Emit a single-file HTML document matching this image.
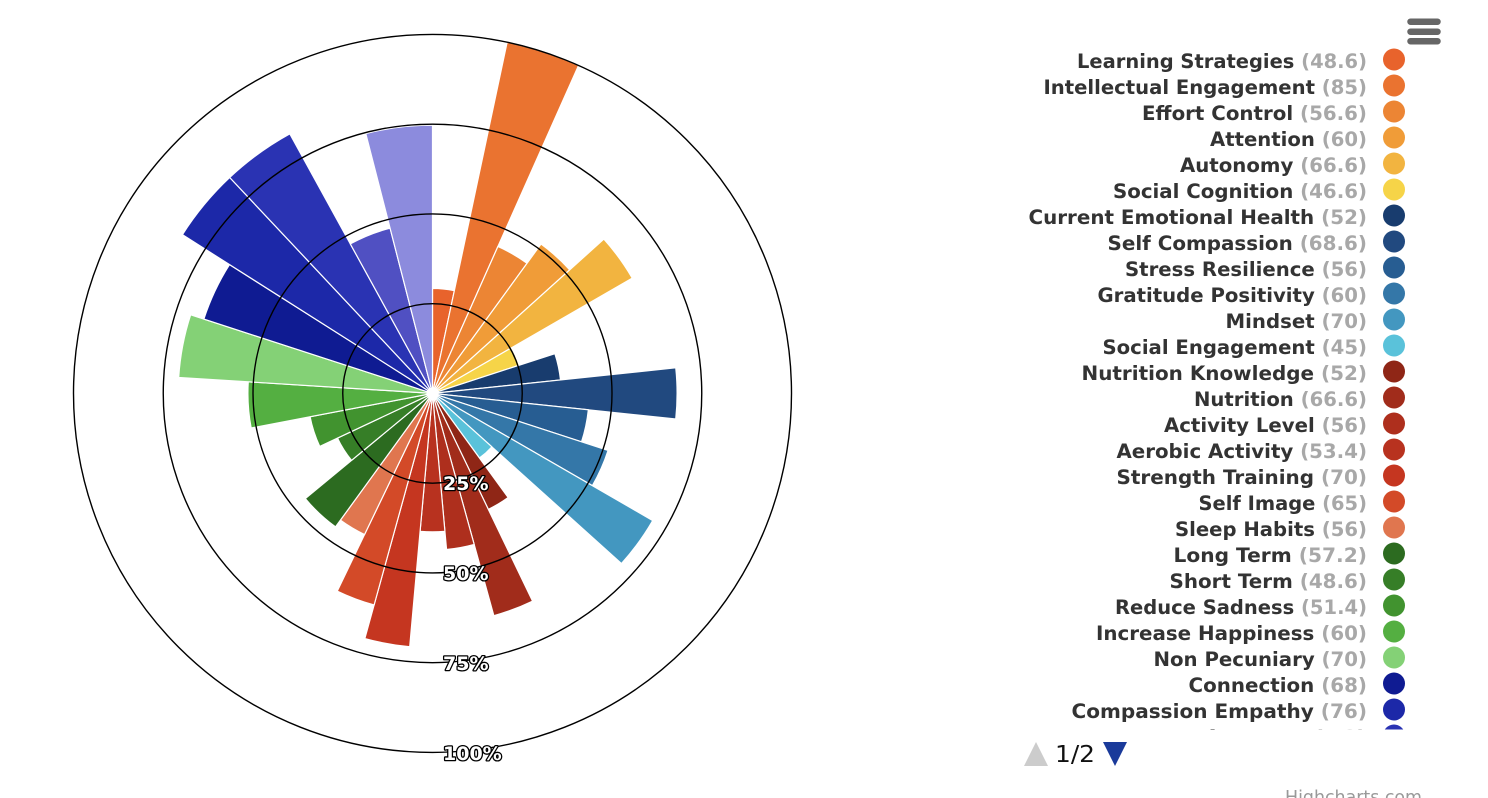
<!DOCTYPE html>
<html>
<head>
<meta charset="utf-8">
<style>
  html, body { margin:0; padding:0; background:#fff; }
  svg { display:block; }
  .lg { font-family:"DejaVu Sans","Liberation Sans",sans-serif; font-weight:bold; font-size:19.5px; }
  .lbl { font-family:"DejaVu Sans","Liberation Sans",sans-serif; font-weight:bold; font-size:19px; fill:#fff; stroke:#000; stroke-width:2.6px; paint-order:stroke; stroke-linejoin:round; }
</style>
</head>
<body>
<svg width="1488" height="798" viewBox="0 0 1488 798" xmlns="http://www.w3.org/2000/svg">
  <rect width="1488" height="798" fill="#fff"/>

  <!-- wedges -->
  <g transform="translate(432.5 393.4)" stroke="#fff" stroke-width="1.2" stroke-linejoin="round">
    <path transform="rotate(0)" d="M0 0L0 -105A105 105 0 0 1 21.83 -102.71Z" fill="#E8632C"/>
    <path transform="rotate(12)" d="M0 0L0 -359A359 359 0 0 1 74.64 -351.15Z" fill="#EA7330"/>
    <path transform="rotate(24)" d="M0 0L0 -160.8A160.8 160.8 0 0 1 33.43 -157.29Z" fill="#EC8534"/>
    <path transform="rotate(36)" d="M0 0L0 -184.6A184.6 184.6 0 0 1 38.38 -180.57Z" fill="#F09C38"/>
    <path transform="rotate(48)" d="M0 0L0 -230.6A230.6 230.6 0 0 1 47.95 -225.56Z" fill="#F2B440"/>
    <path transform="rotate(60)" d="M0 0L0 -91.1A91.1 91.1 0 0 1 18.94 -89.11Z" fill="#F6D448"/>
    <path transform="rotate(72)" d="M0 0L0 -128.7A128.7 128.7 0 0 1 26.76 -125.89Z" fill="#183C6E"/>
    <path transform="rotate(84)" d="M0 0L0 -244.6A244.6 244.6 0 0 1 50.86 -239.25Z" fill="#21497F"/>
    <path transform="rotate(96)" d="M0 0L0 -156.7A156.7 156.7 0 0 1 32.58 -153.28Z" fill="#275D92"/>
    <path transform="rotate(108)" d="M0 0L0 -184.6A184.6 184.6 0 0 1 38.38 -180.57Z" fill="#3477A8"/>
    <path transform="rotate(120)" d="M0 0L0 -254.3A254.3 254.3 0 0 1 52.87 -248.74Z" fill="#4397C0"/>
    <path transform="rotate(132)" d="M0 0L0 -79.9A79.9 79.9 0 0 1 16.61 -78.15Z" fill="#5AC2DA"/>
    <path transform="rotate(144)" d="M0 0L0 -128.7A128.7 128.7 0 0 1 22.98 -126.63Z" fill="#8F2616"/>
    <path transform="rotate(154.2857)" d="M0 0L0 -230.6A230.6 230.6 0 0 1 41.18 -226.89Z" fill="#A12C1B"/>
    <path transform="rotate(164.5714)" d="M0 0L0 -156.7A156.7 156.7 0 0 1 27.98 -154.18Z" fill="#AE2F1D"/>
    <path transform="rotate(174.8571)" d="M0 0L0 -138.5A138.5 138.5 0 0 1 24.73 -136.27Z" fill="#B8321F"/>
    <path transform="rotate(185.1429)" d="M0 0L0 -254.3A254.3 254.3 0 0 1 45.41 -250.21Z" fill="#C53620"/>
    <path transform="rotate(195.4286)" d="M0 0L0 -219.5A219.5 219.5 0 0 1 39.19 -215.97Z" fill="#D34A28"/>
    <path transform="rotate(205.7143)" d="M0 0L0 -156.7A156.7 156.7 0 0 1 27.98 -154.18Z" fill="#E0764F"/>
    <path transform="rotate(216)" d="M0 0L0 -165A165 165 0 0 1 41.03 -159.82Z" fill="#2C6B20"/>
    <path transform="rotate(230.4)" d="M0 0L0 -105A105 105 0 0 1 26.11 -101.70Z" fill="#367E27"/>
    <path transform="rotate(244.8)" d="M0 0L0 -124.6A124.6 124.6 0 0 1 30.99 -120.69Z" fill="#41932F"/>
    <path transform="rotate(259.2)" d="M0 0L0 -184.6A184.6 184.6 0 0 1 45.91 -178.80Z" fill="#54AF41"/>
    <path transform="rotate(273.6)" d="M0 0L0 -254.3A254.3 254.3 0 0 1 63.24 -246.31Z" fill="#84D176"/>
    <path transform="rotate(288)" d="M0 0L0 -240.4A240.4 240.4 0 0 1 59.79 -232.85Z" fill="#0F1B92"/>
    <path transform="rotate(302.4)" d="M0 0L0 -296.2A296.2 296.2 0 0 1 73.66 -286.89Z" fill="#1C28A8"/>
    <path transform="rotate(316.8)" d="M0 0L0 -296.2A296.2 296.2 0 0 1 73.66 -286.89Z" fill="#2A33B3"/>
    <path transform="rotate(331.2)" d="M0 0L0 -170.6A170.6 170.6 0 0 1 42.43 -165.24Z" fill="#5050C2"/>
    <path transform="rotate(345.6)" d="M0 0L0 -268.3A268.3 268.3 0 0 1 66.72 -259.87Z" fill="#8C8BDD"/>
  </g>
  <circle cx="432.5" cy="393.4" r="6" fill="#fff"/>

  <!-- grid circles -->
  <g fill="none" stroke="#000" stroke-width="1.4">
    <circle cx="432.5" cy="393.4" r="89.75"/>
    <circle cx="432.5" cy="393.4" r="179.5"/>
    <circle cx="432.5" cy="393.4" r="269.25"/>
    <circle cx="432.5" cy="393.4" r="359"/>
  </g>

  <!-- axis labels -->
  <text class="lbl" x="443" y="490">25%</text>
  <text class="lbl" x="443" y="580">50%</text>
  <text class="lbl" x="443" y="670">75%</text>
  <text class="lbl" x="443" y="760">100%</text>

  <!-- menu button -->
  <g stroke="#666" stroke-width="6.5" stroke-linecap="round">
    <line x1="1410.5" y1="21.7" x2="1437.5" y2="21.7"/>
    <line x1="1410.5" y1="31.7" x2="1437.5" y2="31.7"/>
    <line x1="1410.5" y1="41.2" x2="1437.5" y2="41.2"/>
  </g>

  <!-- legend -->
  <defs>
    <clipPath id="lgclip"><rect x="1000" y="40" width="460" height="689.5"/></clipPath>
  </defs>
  <g clip-path="url(#lgclip)" class="lg">
    <g text-anchor="end">
      <text x="1367" y="68" textLength="290" lengthAdjust="spacingAndGlyphs"><tspan fill="#333">Learning Strategies</tspan><tspan fill="#a8a8a8"> (48.6)</tspan></text>
      <text x="1367" y="94" textLength="323.5" lengthAdjust="spacingAndGlyphs"><tspan fill="#333">Intellectual Engagement</tspan><tspan fill="#a8a8a8"> (85)</tspan></text>
      <text x="1367" y="120" textLength="225" lengthAdjust="spacingAndGlyphs"><tspan fill="#333">Effort Control</tspan><tspan fill="#a8a8a8"> (56.6)</tspan></text>
      <text x="1367" y="146" textLength="157" lengthAdjust="spacingAndGlyphs"><tspan fill="#333">Attention</tspan><tspan fill="#a8a8a8"> (60)</tspan></text>
      <text x="1367" y="172" textLength="187" lengthAdjust="spacingAndGlyphs"><tspan fill="#333">Autonomy</tspan><tspan fill="#a8a8a8"> (66.6)</tspan></text>
      <text x="1367" y="198" textLength="254" lengthAdjust="spacingAndGlyphs"><tspan fill="#333">Social Cognition</tspan><tspan fill="#a8a8a8"> (46.6)</tspan></text>
      <text x="1367" y="224" textLength="338.5" lengthAdjust="spacingAndGlyphs"><tspan fill="#333">Current Emotional Health</tspan><tspan fill="#a8a8a8"> (52)</tspan></text>
      <text x="1367" y="250" textLength="259.5" lengthAdjust="spacingAndGlyphs"><tspan fill="#333">Self Compassion</tspan><tspan fill="#a8a8a8"> (68.6)</tspan></text>
      <text x="1367" y="276" textLength="242" lengthAdjust="spacingAndGlyphs"><tspan fill="#333">Stress Resilience</tspan><tspan fill="#a8a8a8"> (56)</tspan></text>
      <text x="1367" y="302" textLength="269.5" lengthAdjust="spacingAndGlyphs"><tspan fill="#333">Gratitude Positivity</tspan><tspan fill="#a8a8a8"> (60)</tspan></text>
      <text x="1367" y="328" textLength="141.5" lengthAdjust="spacingAndGlyphs"><tspan fill="#333">Mindset</tspan><tspan fill="#a8a8a8"> (70)</tspan></text>
      <text x="1367" y="354" textLength="264.5" lengthAdjust="spacingAndGlyphs"><tspan fill="#333">Social Engagement</tspan><tspan fill="#a8a8a8"> (45)</tspan></text>
      <text x="1367" y="380" textLength="285.5" lengthAdjust="spacingAndGlyphs"><tspan fill="#333">Nutrition Knowledge</tspan><tspan fill="#a8a8a8"> (52)</tspan></text>
      <text x="1367" y="406" textLength="173" lengthAdjust="spacingAndGlyphs"><tspan fill="#333">Nutrition</tspan><tspan fill="#a8a8a8"> (66.6)</tspan></text>
      <text x="1367" y="432" textLength="203" lengthAdjust="spacingAndGlyphs"><tspan fill="#333">Activity Level</tspan><tspan fill="#a8a8a8"> (56)</tspan></text>
      <text x="1367" y="458" textLength="250.5" lengthAdjust="spacingAndGlyphs"><tspan fill="#333">Aerobic Activity</tspan><tspan fill="#a8a8a8"> (53.4)</tspan></text>
      <text x="1367" y="484" textLength="250.5" lengthAdjust="spacingAndGlyphs"><tspan fill="#333">Strength Training</tspan><tspan fill="#a8a8a8"> (70)</tspan></text>
      <text x="1367" y="510" textLength="168.5" lengthAdjust="spacingAndGlyphs"><tspan fill="#333">Self Image</tspan><tspan fill="#a8a8a8"> (65)</tspan></text>
      <text x="1367" y="536" textLength="192" lengthAdjust="spacingAndGlyphs"><tspan fill="#333">Sleep Habits</tspan><tspan fill="#a8a8a8"> (56)</tspan></text>
      <text x="1367" y="562" textLength="193.5" lengthAdjust="spacingAndGlyphs"><tspan fill="#333">Long Term</tspan><tspan fill="#a8a8a8"> (57.2)</tspan></text>
      <text x="1367" y="588" textLength="197.5" lengthAdjust="spacingAndGlyphs"><tspan fill="#333">Short Term</tspan><tspan fill="#a8a8a8"> (48.6)</tspan></text>
      <text x="1367" y="614" textLength="252" lengthAdjust="spacingAndGlyphs"><tspan fill="#333">Reduce Sadness</tspan><tspan fill="#a8a8a8"> (51.4)</tspan></text>
      <text x="1367" y="640" textLength="271" lengthAdjust="spacingAndGlyphs"><tspan fill="#333">Increase Happiness</tspan><tspan fill="#a8a8a8"> (60)</tspan></text>
      <text x="1367" y="666" textLength="213.5" lengthAdjust="spacingAndGlyphs"><tspan fill="#333">Non Pecuniary</tspan><tspan fill="#a8a8a8"> (70)</tspan></text>
      <text x="1367" y="692" textLength="178.5" lengthAdjust="spacingAndGlyphs"><tspan fill="#333">Connection</tspan><tspan fill="#a8a8a8"> (68)</tspan></text>
      <text x="1367" y="718" textLength="295.5" lengthAdjust="spacingAndGlyphs"><tspan fill="#333">Compassion Empathy</tspan><tspan fill="#a8a8a8"> (76)</tspan></text>
      <text x="1367" y="744" textLength="187" lengthAdjust="spacingAndGlyphs"><tspan fill="#333">Tolerance</tspan><tspan fill="#a8a8a8"> (76)</tspan></text>
    </g>
    <g>
      <circle cx="1394" cy="59.5" r="11" fill="#E8632C"/>
      <circle cx="1394" cy="85.5" r="11" fill="#EA7330"/>
      <circle cx="1394" cy="111.5" r="11" fill="#EC8534"/>
      <circle cx="1394" cy="137.5" r="11" fill="#F09C38"/>
      <circle cx="1394" cy="163.5" r="11" fill="#F2B440"/>
      <circle cx="1394" cy="189.5" r="11" fill="#F6D448"/>
      <circle cx="1394" cy="215.5" r="11" fill="#183C6E"/>
      <circle cx="1394" cy="241.5" r="11" fill="#21497F"/>
      <circle cx="1394" cy="267.5" r="11" fill="#275D92"/>
      <circle cx="1394" cy="293.5" r="11" fill="#3477A8"/>
      <circle cx="1394" cy="319.5" r="11" fill="#4397C0"/>
      <circle cx="1394" cy="345.5" r="11" fill="#5AC2DA"/>
      <circle cx="1394" cy="371.5" r="11" fill="#8F2616"/>
      <circle cx="1394" cy="397.5" r="11" fill="#A12C1B"/>
      <circle cx="1394" cy="423.5" r="11" fill="#AE2F1D"/>
      <circle cx="1394" cy="449.5" r="11" fill="#B8321F"/>
      <circle cx="1394" cy="475.5" r="11" fill="#C53620"/>
      <circle cx="1394" cy="501.5" r="11" fill="#D34A28"/>
      <circle cx="1394" cy="527.5" r="11" fill="#E0764F"/>
      <circle cx="1394" cy="553.5" r="11" fill="#2C6B20"/>
      <circle cx="1394" cy="579.5" r="11" fill="#367E27"/>
      <circle cx="1394" cy="605.5" r="11" fill="#41932F"/>
      <circle cx="1394" cy="631.5" r="11" fill="#54AF41"/>
      <circle cx="1394" cy="657.5" r="11" fill="#84D176"/>
      <circle cx="1394" cy="683.5" r="11" fill="#0F1B92"/>
      <circle cx="1394" cy="709.5" r="11" fill="#1C28A8"/>
      <circle cx="1394" cy="735.5" r="11" fill="#2A33B3"/>
    </g>
  </g>

  <!-- legend navigation -->
  <polygon points="1036,742 1048,766 1024,766" fill="#cccccc"/>
  <text x="1055" y="762" font-family="DejaVu Sans, Liberation Sans, sans-serif" font-size="23" fill="#111" textLength="40" lengthAdjust="spacingAndGlyphs">1/2</text>
  <polygon points="1103,742 1127,742 1115,766" fill="#1a3a9a"/>

  <!-- credits -->
  <text x="1422" y="803" text-anchor="end" font-family="DejaVu Sans, Liberation Sans, sans-serif" font-size="17.4" fill="#999" textLength="137" lengthAdjust="spacingAndGlyphs">Highcharts.com</text>
</svg>
</body>
</html>
